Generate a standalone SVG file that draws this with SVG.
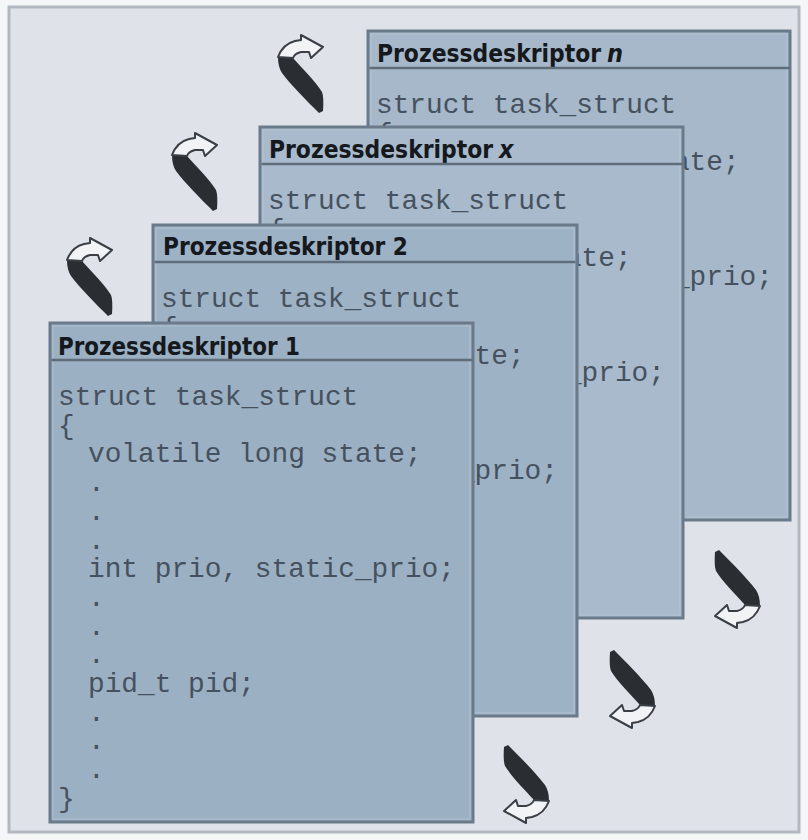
<svg xmlns="http://www.w3.org/2000/svg" width="808" height="840" viewBox="0 0 808 840">
<style>
.card{stroke:#6b7a8a;stroke-width:3}
.bevel{fill:none;stroke:#b9c8d6;stroke-width:1;opacity:0.7}
.sep{stroke:#5f6c7a;stroke-width:2.5}
.hdr{font-family:"DejaVu Sans Condensed","DejaVu Sans","Liberation Sans",sans-serif;font-weight:bold;font-size:25px;fill:#15191e}
.it{font-style:italic}
.code{font-family:"Liberation Mono","DejaVu Sans Mono",monospace;font-size:27.8px;fill:#45515e}
.tail{fill:#2a2d32}
.head{fill:#f2f3f6;stroke:#3a3e45;stroke-width:2;stroke-linejoin:round}
</style>
<defs>
<g id="curl">
<path class="tail" d="M1,22 L16,23 C26,34 38,46 45,57 Q47,62 46,76 L42,78 C30,66 14,50 5,38 Q1,32 1,22 Z"/>
<path class="head" d="M1,22 C4,14 10,8 18,6 L24,5 L24,0 L46,12 L34,23 L32,17 L24,17 C20,18 17,20 16,23 Z"/>
</g>
<g id="content">
<path class="sep" d="M1.5,37 H422.5"/>
<text class="code">
<tspan x="8" y="82">struct task_struct</tspan>
<tspan x="8" y="110.7">{</tspan>
<tspan x="38" y="139.4">volatile long state;</tspan>
<tspan x="38" y="168.1">.</tspan>
<tspan x="38" y="196.8">.</tspan>
<tspan x="38" y="225.5">.</tspan>
<tspan x="38" y="254.2">int prio, static_prio;</tspan>
<tspan x="38" y="282.9">.</tspan>
<tspan x="38" y="311.6">.</tspan>
<tspan x="38" y="340.3">.</tspan>
<tspan x="38" y="369">pid_t pid;</tspan>
<tspan x="38" y="397.7">.</tspan>
<tspan x="38" y="426.4">.</tspan>
<tspan x="38" y="455.1">.</tspan>
<tspan x="8" y="483.8">}</tspan>
</text>
</g>
</defs>
<rect x="0" y="0" width="808" height="840" fill="#f5f6f8"/>
<rect x="9" y="7" width="790" height="825" fill="#dfe2e9" stroke="#b3b8c0" stroke-width="3"/>

<g id="node-n" transform="translate(368,31)">
<rect class="card" x="0" y="0" width="422" height="489" fill="#a6b8c9"/>
<rect class="bevel" x="3" y="3" width="416" height="483"/>
<text class="hdr" x="9" y="31" textLength="224" lengthAdjust="spacingAndGlyphs">Prozessdeskriptor</text>
<text class="hdr it" x="239" y="31">n</text>
<use href="#content"/>
</g>

<g id="node-x" transform="translate(260,127)">
<rect class="card" x="0" y="0" width="423" height="491" fill="#a8bacb"/>
<rect class="bevel" x="3" y="3" width="417" height="485"/>
<text class="hdr" x="9" y="31" textLength="224" lengthAdjust="spacingAndGlyphs">Prozessdeskriptor</text>
<text class="hdr it" x="239" y="31">x</text>
<use href="#content"/>
</g>

<g id="node-2" transform="translate(153,225)">
<rect class="card" x="0" y="0" width="424" height="491" fill="#9eb2c5"/>
<rect class="bevel" x="3" y="3" width="418" height="485"/>
<text class="hdr" x="10" y="30" textLength="245" lengthAdjust="spacingAndGlyphs">Prozessdeskriptor 2</text>
<use href="#content"/>
</g>

<g id="node-1" transform="translate(50,323)">
<rect class="card" x="0" y="0" width="423" height="499" fill="#9bb0c3"/>
<rect class="bevel" x="3" y="3" width="417" height="493"/>
<text class="hdr" x="8" y="32" textLength="242" lengthAdjust="spacingAndGlyphs">Prozessdeskriptor 1</text>
<use href="#content"/>
</g>

<g id="connectors">
<use href="#curl" transform="translate(277,35)"/>
<use href="#curl" transform="translate(171,133)"/>
<use href="#curl" transform="translate(66,238)"/>
<use href="#curl" transform="translate(761,628) rotate(180)"/>
<use href="#curl" transform="translate(656,728) rotate(180)"/>
<use href="#curl" transform="translate(550,823) rotate(180)"/>
</g>
</svg>
